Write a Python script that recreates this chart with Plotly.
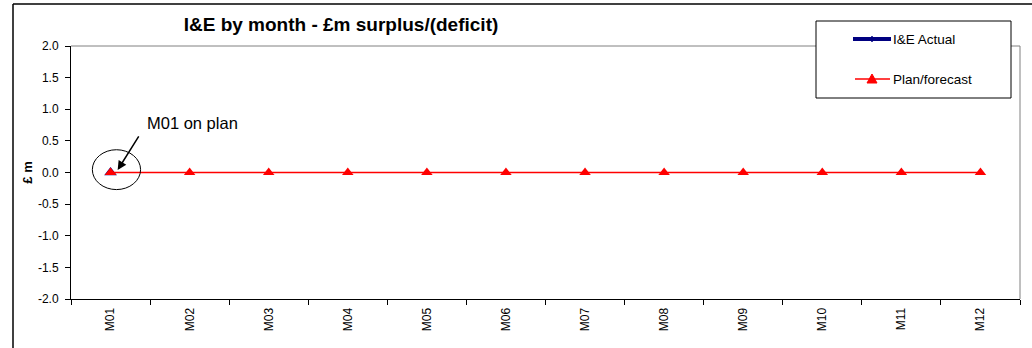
import plotly.graph_objects as go

months = ["M01", "M02", "M03", "M04", "M05", "M06", "M07", "M08", "M09", "M10", "M11", "M12"]
actual = [0.0, None, None, None, None, None, None, None, None, None, None, None]
plan = [0.0, 0.0, 0.0, 0.0, 0.0, 0.0, 0.0, 0.0, 0.0, 0.0, 0.0, 0.0]
y_ticks = [-2.0, -1.5, -1.0, -0.5, 0.0, 0.5, 1.0, 1.5, 2.0]
y_tick_text = ["-2.0", "-1.5", "-1.0", "-0.5", "0.0", "0.5", "1.0", "1.5", "2.0"]
series_names = ["I&E Actual", "Plan/forecast"]

FONT = "Liberation Sans, Arial, sans-serif"
NAVY = "#000080"
RED = "#ff0000"

# plot area in pixels
L, R, T, B = 71, 1020, 46, 299
W, H = R - L, B - T


def px(x):
    return (x - L) / W


def py(y):
    return (B - y) / H


fig = go.Figure()
fig.add_trace(go.Scatter(
    x=months, y=actual, name=series_names[0], mode="lines+markers",
    line=dict(color=NAVY, width=4),
    marker=dict(symbol="triangle-up", size=11, color=NAVY),
    showlegend=False,
))
fig.add_trace(go.Scatter(
    x=months, y=plan, name=series_names[1], mode="lines+markers",
    line=dict(color=RED, width=1.5),
    marker=dict(symbol="triangle-up", size=10, color=RED),
    showlegend=False,
))

fig.update_layout(
    width=1032, height=348,
    margin=dict(l=L, r=1032 - R, t=T, b=348 - B),
    paper_bgcolor="white", plot_bgcolor="white",
    font=dict(family=FONT, size=12, color="black"),
    title=dict(text="<b>I&E by month - £m surplus/(deficit)</b>", x=px(341), xref="paper",
               xanchor="center", y=1 - 24 / 348, yanchor="middle", font=dict(size=19, family=FONT)),
    showlegend=False,
    xaxis=dict(type="category", categoryorder="array", categoryarray=months,
               showline=True, linecolor="black", linewidth=1,
               ticks="outside", tickson="boundaries", ticklen=5, tickcolor="black",
               tickangle=-90, showgrid=False, zeroline=False, range=[-0.5, 11.5],
               ticklabelstandoff=3, tickfont=dict(size=12)),
    yaxis=dict(range=[-2, 2], tickvals=y_ticks, ticktext=y_tick_text,
               showline=True, linecolor="black", linewidth=1,
               ticks="outside", ticklen=5, tickcolor="black",
               showgrid=False, zeroline=False, ticklabelstandoff=4,
               title=dict(text="<b>£ m</b>", font=dict(size=13), standoff=2),
               tickfont=dict(size=12)),
)

# plot-area grey frame (top/right)
fig.add_shape(type="line", xref="paper", yref="paper", x0=0, x1=1, y0=1, y1=1,
              line=dict(color="#808080", width=1), layer="below")
fig.add_shape(type="line", xref="paper", yref="paper", x0=1, x1=1, y0=0, y1=1,
              line=dict(color="#808080", width=1), layer="below")
# outer chart border (left/top)
fig.add_shape(type="line", xref="paper", yref="paper", x0=px(13), x1=px(13), y0=py(360), y1=py(4),
              line=dict(color="black", width=1.5))
fig.add_shape(type="line", xref="paper", yref="paper", x0=px(13), x1=px(1040), y0=py(4), y1=py(4),
              line=dict(color="black", width=1.5))

# ellipse around M01
fig.add_shape(type="circle", xref="x", yref="y", x0=-0.23, x1=0.38, y0=-0.27, y1=0.36,
              line=dict(color="black", width=1))
# arrow
fig.add_annotation(x=0.09, y=0.04, xref="x", yref="y", text="", showarrow=True,
                   ax=22, ay=-35, arrowhead=2, arrowsize=1.2, arrowwidth=1.5, arrowcolor="black")
fig.add_annotation(x=px(145), y=py(123), xref="paper", yref="paper", text="M01 on plan",
                   showarrow=False, xanchor="left", yanchor="middle",
                   font=dict(size=16.5, family=FONT))

# legend box (drawn manually to match the original layout)
fig.add_shape(type="rect", xref="paper", yref="paper", x0=px(816), x1=px(1011), y0=py(98), y1=py(21),
              line=dict(color="black", width=1), fillcolor="white", layer="above")
# I&E Actual entry
fig.add_shape(type="line", xref="paper", yref="paper", x0=px(853), x1=px(891), y0=py(39), y1=py(39),
              line=dict(color=NAVY, width=4), layer="above")
fig.add_shape(type="line", xref="paper", yref="paper", x0=px(872), x1=px(872), y0=py(36), y1=py(42),
              line=dict(color=NAVY, width=1.5), layer="above")
fig.add_annotation(x=px(891), y=py(40), xref="paper", yref="paper", text=series_names[0],
                   showarrow=False, xanchor="left", yanchor="middle", font=dict(size=13.5, family=FONT))
# Plan/forecast entry
fig.add_shape(type="line", xref="paper", yref="paper", x0=px(855), x1=px(890), y0=py(79), y1=py(79),
              line=dict(color=RED, width=1.5), layer="above")
fig.add_shape(type="path", xref="paper", yref="paper",
              path=f"M {px(867)},{py(83)} L {px(877)},{py(83)} L {px(872)},{py(74)} Z",
              line=dict(color=RED, width=1), fillcolor=RED, layer="above")
fig.add_annotation(x=px(891), y=py(79), xref="paper", yref="paper", text=series_names[1],
                   showarrow=False, xanchor="left", yanchor="middle", font=dict(size=13.5, family=FONT))

fig.write_html("out.html")
